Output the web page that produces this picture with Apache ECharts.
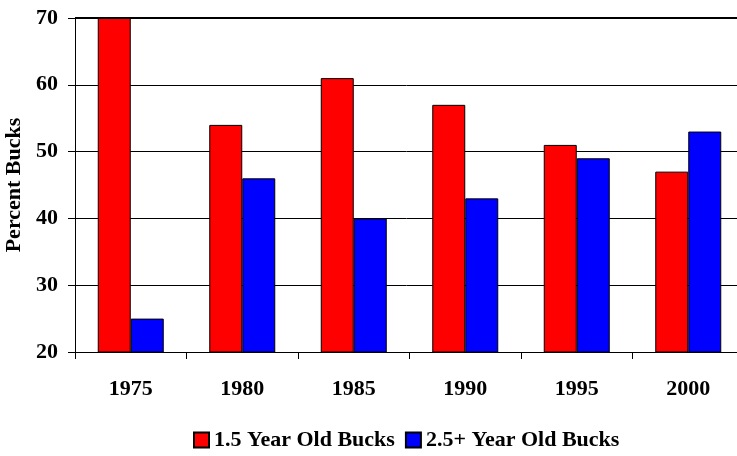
<!DOCTYPE html>
<html>
<head>
<meta charset="utf-8">
<script src="https://cdn.jsdelivr.net/npm/echarts@6/dist/echarts.min.js"></script>
<style>
  html, body { margin: 0; padding: 0; background: #fff; }
  #chart { width: 737px; height: 456px; }
</style>
</head>
<body>
<div id="chart"></div>
<script>
// data
const years = ['1975', '1980', '1985', '1990', '1995', '2000'];
const yearlings = [70, 54, 61, 57, 51, 47];
const olderBucks = [25, 46, 40, 43, 49, 53];
const seriesNames = ['1.5 Year Old Bucks', '2.5+ Year Old Bucks'];

const font = '"Liberation Serif", "Times New Roman", serif';

const chart = echarts.init(document.getElementById('chart'));

const option = {
  backgroundColor: '#fff',
  animation: false,
  textStyle: { fontFamily: font },
  grid: { left: 75, right: -7, top: 18, bottom: 104, outerBoundsMode: 'none' },
  legend: {
    bottom: 0,
    left: 188,
    itemWidth: 15,
    itemHeight: 15,
    itemGap: 10,
    icon: 'rect',
    textStyle: { fontFamily: font, fontWeight: 'bold', fontSize: 22, color: '#000' },
    data: seriesNames
  },
  xAxis: {
    type: 'category',
    data: years,
    axisLine: { lineStyle: { color: '#000', width: 1 } },
    axisTick: { show: true, length: 7, lineStyle: { color: '#000' } },
    axisLabel: { fontFamily: font, fontWeight: 'bold', fontSize: 22, color: '#000', margin: 26 }
  },
  yAxis: {
    type: 'value',
    min: 20,
    max: 70,
    interval: 10,
    name: 'Percent Bucks',
    nameLocation: 'middle',
    nameGap: 50,
    nameTextStyle: { fontFamily: font, fontWeight: 'bold', fontSize: 22, color: '#000' },
    axisLine: { show: true, lineStyle: { color: '#000', width: 1 } },
    axisTick: { show: true, length: 7, lineStyle: { color: '#000' } },
    axisLabel: { fontFamily: font, fontWeight: 'bold', fontSize: 22, color: '#000', margin: 17 },
    splitLine: { show: true, lineStyle: { color: '#000', width: 1 } }
  },
  series: [
    {
      name: seriesNames[0],
      type: 'bar',
      data: yearlings,
      barWidth: 33,
      barGap: '0%',
      itemStyle: { color: '#ff0000', borderColor: '#000', borderWidth: 1 },
      // heavier frame line along the top of the plot
      markLine: {
        silent: true,
        symbol: 'none',
        label: { show: false },
        lineStyle: { color: '#000', width: 2, type: 'solid' },
        data: [{ yAxis: 70 }]
      }
    },
    {
      name: seriesNames[1],
      type: 'bar',
      data: olderBucks,
      barWidth: 33,
      barGap: '0%',
      itemStyle: { color: '#0000ff', borderColor: '#000', borderWidth: 1 }
    }
  ]
};

chart.setOption(option);
</script>
</body>
</html>
